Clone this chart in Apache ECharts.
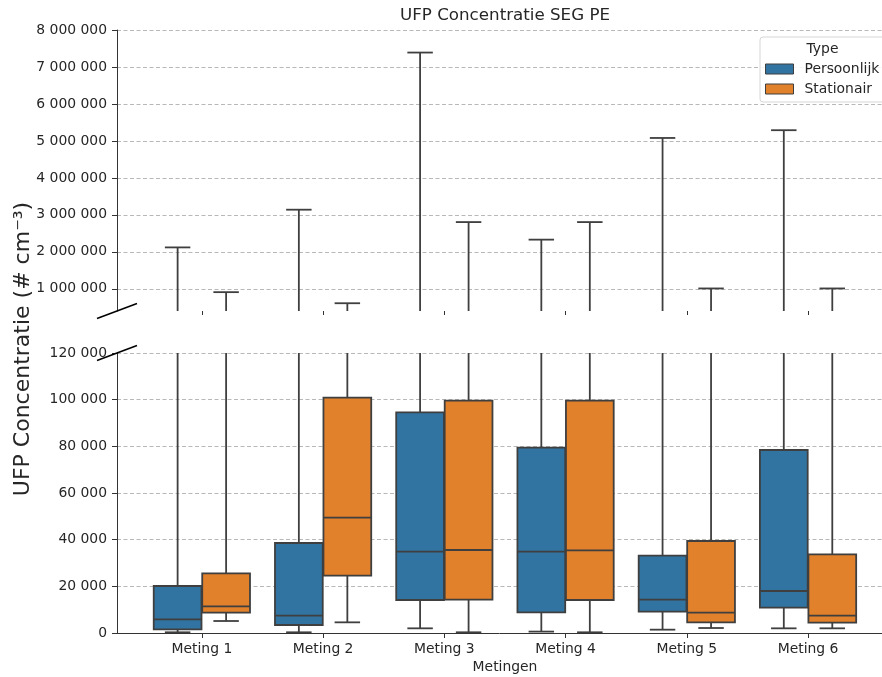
<!DOCTYPE html>
<html><head><meta charset="utf-8">
<script src="https://cdn.jsdelivr.net/npm/echarts@6/dist/echarts.min.js"></script>
<style>html,body{margin:0;padding:0;background:#fff}#c{width:882px;height:677px}</style>
</head><body><div id="c"></div>
<script>
// ---- data ----
const categories = ['Meting 1', 'Meting 2', 'Meting 3', 'Meting 4', 'Meting 5', 'Meting 6'];
const hueNames = ['Persoonlijk', 'Stationair'];
// each row: [lower whisker, Q1, median, Q3, upper whisker]
const persoonlijk = [
  [300, 1570, 5860, 20140, 2120000],
  [300, 3430, 7430, 38570, 3140000],
  [2000, 14140, 34860, 94570, 7390000],
  [600, 8860, 34860, 79430, 2330000],
  [1430, 9140, 14290, 33140, 5080000],
  [2000, 10860, 18000, 78430, 5290000]
];
const stationair = [
  [5140, 8710, 11430, 25570, 910000],
  [4570, 24570, 49430, 100850, 610000],
  [300, 14290, 35570, 99570, 2805000],
  [300, 14140, 35430, 99570, 2805000],
  [2140, 4570, 8710, 39430, 1010000],
  [2000, 4430, 7430, 33710, 1010000]
];
const topTicks = [1000000, 2000000, 3000000, 4000000, 5000000, 6000000, 7000000, 8000000];
const bottomTicks = [0, 20000, 40000, 60000, 80000, 100000, 120000];
const xTicks = [0, 1, 2, 3, 4, 5];

// ---- style ----
const FONT = 'DejaVu Sans';
const TXT = '#262626';
const EDGE = '#3f3f3f';
const COLORS = ['#3274a1', '#e1812c'];
const fmt = v => String(v).replace(/\B(?=(\d{3})+(?!\d))/g, ' ');

function rows(arr) { return arr.map((r, i) => [i].concat(r)); }

function makeRender(offset, color) {
  const hw = 0.197, cw = 0.105;
  return function (params, api) {
    const x = api.value(0) + offset;
    const lo = api.value(1), q1 = api.value(2), med = api.value(3), q3 = api.value(4), hi = api.value(5);
    const tl = api.coord([x - hw, q3]);
    const br = api.coord([x + hw, q1]);
    const mL = api.coord([x - hw, med]), mR = api.coord([x + hw, med]);
    const c = api.coord([x, 0])[0];
    const yHi = api.coord([x, hi])[1], yLo = api.coord([x, lo])[1];
    const cL = api.coord([x - cw, 0])[0], cR = api.coord([x + cw, 0])[0];
    const ls = { stroke: EDGE, lineWidth: 1.8 };
    return {
      type: 'group',
      children: [
        { type: 'line', shape: { x1: c, y1: tl[1], x2: c, y2: yHi }, style: ls },
        { type: 'line', shape: { x1: c, y1: br[1], x2: c, y2: yLo }, style: ls },
        { type: 'line', shape: { x1: cL, y1: yHi, x2: cR, y2: yHi }, style: ls },
        { type: 'line', shape: { x1: cL, y1: yLo, x2: cR, y2: yLo }, style: ls },
        { type: 'rect', shape: { x: tl[0], y: tl[1], width: br[0] - tl[0], height: br[1] - tl[1] },
          style: { fill: color, stroke: EDGE, lineWidth: 1.8 } },
        { type: 'line', shape: { x1: mL[0], y1: mL[1], x2: mR[0], y2: mR[1] }, style: ls }
      ]
    };
  };
}

const chart = echarts.init(document.getElementById('c'), null, { renderer: 'canvas' });

const X_MIN = -0.7, X_MAX = 5.61;
const axisLineStyle = { color: '#333', width: 1 };
const splitLineStyle = { color: '#b8b8b8', width: 1, type: [4, 2.5] };
const labelStyle = { fontFamily: FONT, fontSize: 13.9, color: TXT };

const series = [];
[persoonlijk, stationair].forEach((arr, h) => {
  [0, 1].forEach(g => {
    series.push({
      type: 'custom',
      name: hueNames[h],
      xAxisIndex: g, yAxisIndex: g,
      clip: true,
      itemStyle: { color: COLORS[h] },
      renderItem: makeRender(h === 0 ? -0.2 : 0.2, COLORS[h]),
      encode: { x: 0, y: [1, 2, 3, 4, 5] },
      data: rows(arr),
      silent: true
    });
  });
});

chart.setOption({
  animation: false,
  backgroundColor: '#fff',
  title: {
    text: 'UFP Concentratie SEG PE',
    left: 400, top: 7, padding: 0,
    textStyle: { fontFamily: FONT, fontSize: 16.7, fontWeight: 'normal', color: TXT }
  },
  grid: [
    { left: 117, right: 0, top: 30, height: 281 },
    { left: 117, right: 0, top: 353, height: 280 }
  ],
  xAxis: [
    { type: 'value', gridIndex: 0, min: X_MIN, max: X_MAX,
      axisLine: { show: false, onZero: false },
      axisTick: { show: true, customValues: xTicks, length: 4, lineStyle: axisLineStyle },
      axisLabel: { show: false }, splitLine: { show: false } },
    { type: 'value', gridIndex: 1, min: X_MIN, max: X_MAX,
      axisLine: { show: true, onZero: false, lineStyle: axisLineStyle },
      axisTick: { show: true, customValues: xTicks, length: 5, lineStyle: axisLineStyle },
      axisLabel: { customValues: xTicks, formatter: v => categories[Math.round(v)], margin: 9, ...labelStyle },
      splitLine: { show: false } }
  ],
  yAxis: [
    { type: 'value', gridIndex: 0, min: 400000, max: 8000000,
      axisLine: { show: true, onZero: false, lineStyle: axisLineStyle },
      axisTick: { show: true, customValues: topTicks, length: 5, lineStyle: axisLineStyle },
      axisLabel: { customValues: topTicks, formatter: fmt, margin: 10, ...labelStyle },
      splitLine: { show: true, lineStyle: splitLineStyle } },
    { type: 'value', gridIndex: 1, min: 0, max: 120000, interval: 20000,
      axisLine: { show: true, onZero: false, lineStyle: axisLineStyle },
      axisTick: { show: true, length: 5, lineStyle: axisLineStyle },
      axisLabel: { formatter: fmt, margin: 10, ...labelStyle },
      splitLine: { show: true, lineStyle: splitLineStyle } }
  ],
  legend: {
    data: hueNames.map((n, i) => ({ name: n, icon: 'rect',
      itemStyle: { color: COLORS[i], borderColor: EDGE, borderWidth: 1 } })),
    orient: 'vertical', left: 760, top: 37,
    padding: [24, 8, 5, 5], itemWidth: 28, itemHeight: 10, itemGap: 4,
    backgroundColor: 'rgba(255,255,255,0.85)', borderColor: '#d6d6d6', borderWidth: 1, borderRadius: 3,
    selectedMode: false,
    textStyle: { ...labelStyle, lineHeight: 16, padding: [0, 0, 0, 6] }
  },
  series: series
});

// decorations: legend title, axis titles, axis-break marks
const pTop = chart.convertToPixel({ xAxisIndex: 0, yAxisIndex: 0 }, [X_MIN, 400000]);
const pBot = chart.convertToPixel({ xAxisIndex: 1, yAxisIndex: 1 }, [X_MIN, 120000]);
const brk = p => ({ type: 'line', z: 100,
  shape: { x1: p[0] - 20, y1: p[1] + 7.5, x2: p[0] + 20, y2: p[1] - 7.5 },
  style: { stroke: '#000', lineWidth: 1.6 } });

chart.setOption({
  graphic: [
    brk(pTop), brk(pBot),
    { type: 'text', x: 822.5, y: 49, z: 100,
      style: { text: 'Type', font: '13.9px "DejaVu Sans"', fill: TXT, align: 'center', verticalAlign: 'middle' } },
    { type: 'text', x: 505, y: 667, z: 100,
      style: { text: 'Metingen', font: '13.9px "DejaVu Sans"', fill: TXT, align: 'center', verticalAlign: 'middle' } },
    { type: 'text', x: 23, y: 349, rotation: Math.PI / 2, z: 100,
      style: {
        text: 'UFP Concentratie (# cm⁻³)',
        font: '22px "DejaVu Sans"', fill: TXT, align: 'center', verticalAlign: 'middle'
      } }
  ]
});
</script>
</body></html>
